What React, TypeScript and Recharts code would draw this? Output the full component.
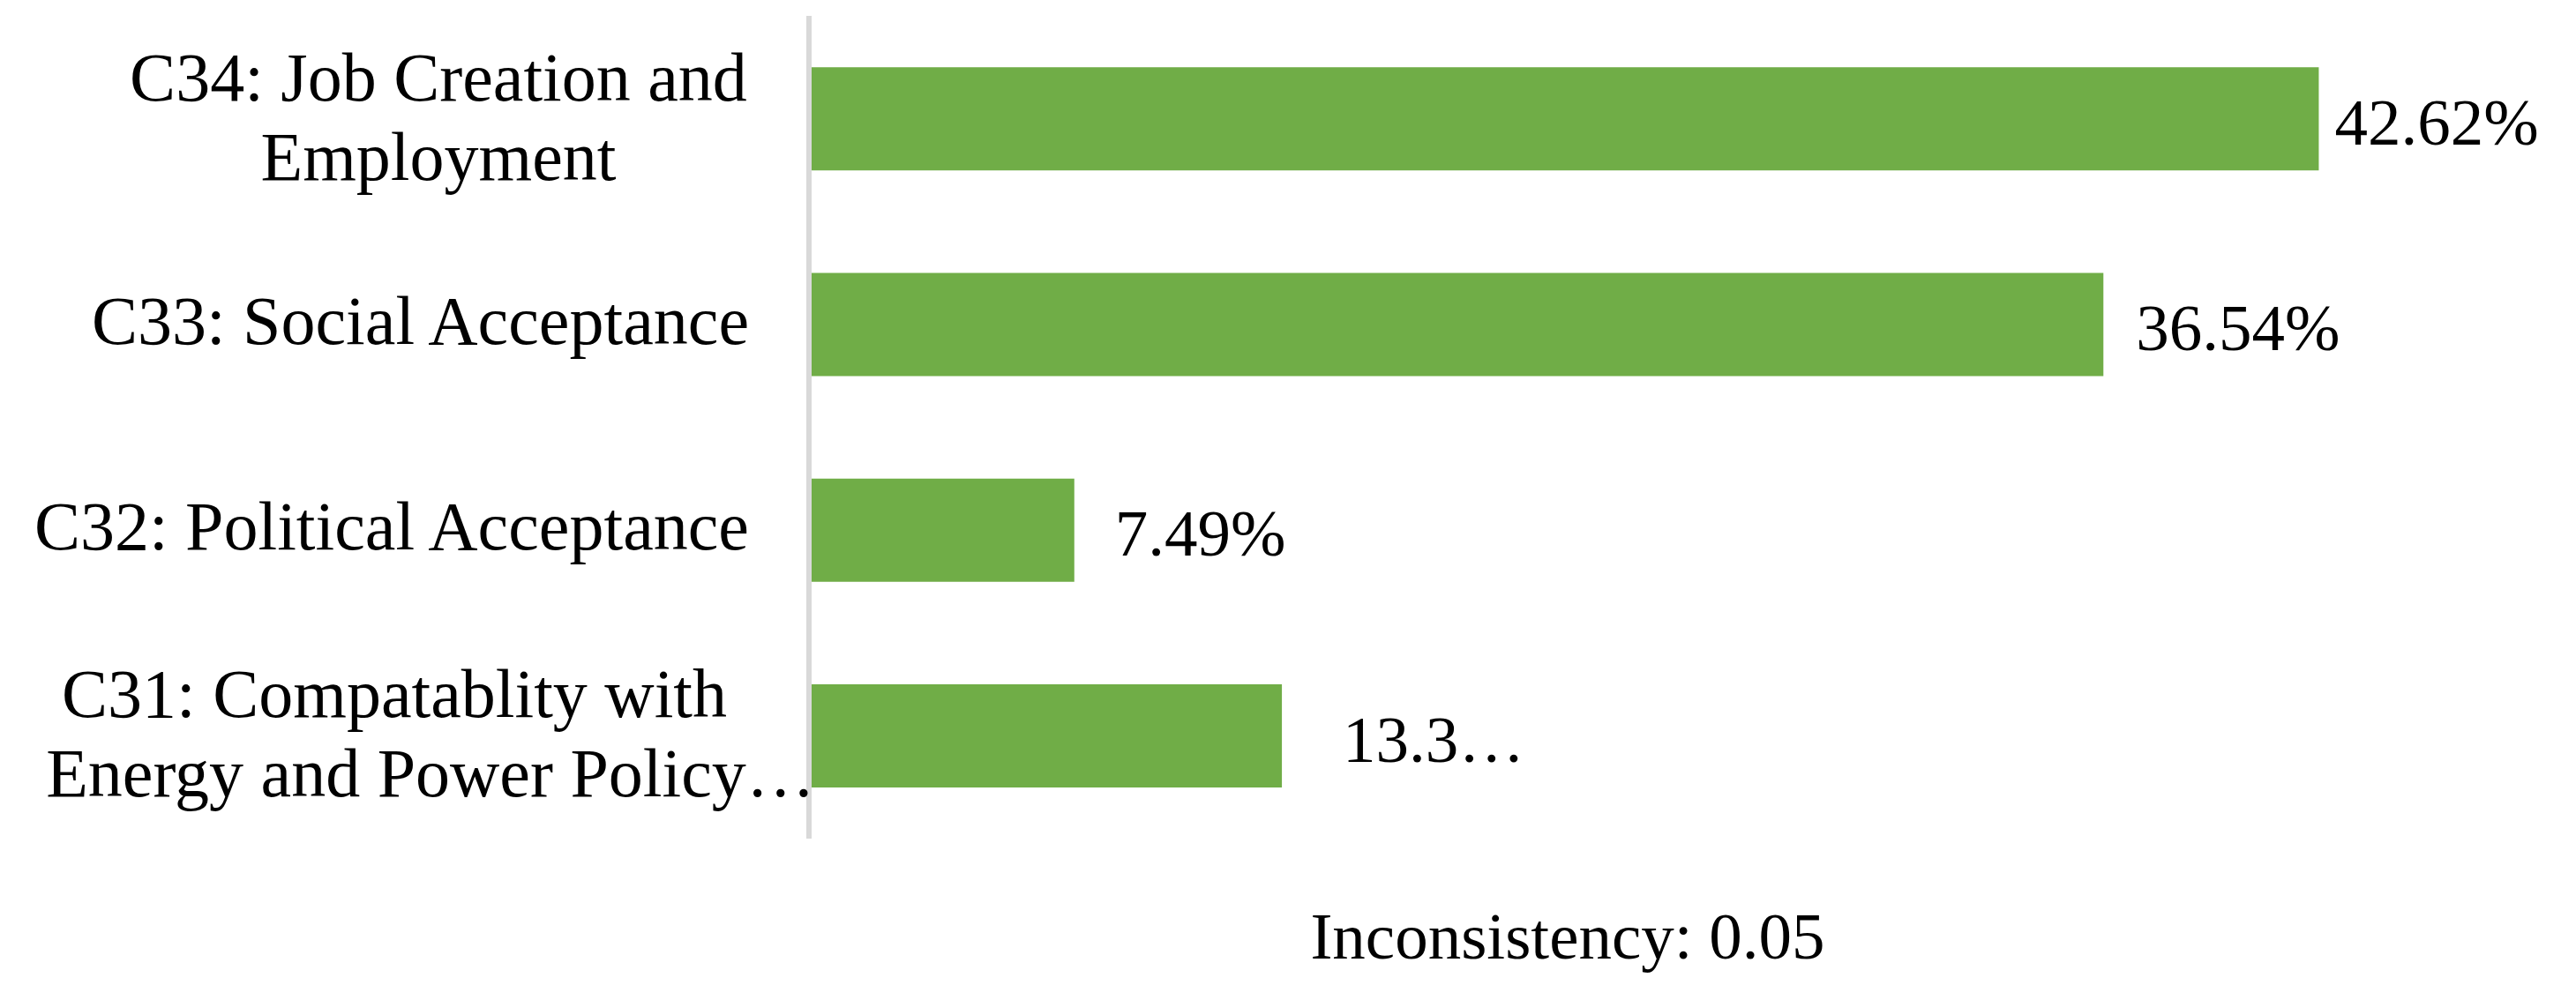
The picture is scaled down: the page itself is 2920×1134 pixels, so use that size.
import React from "react";
import { BarChart, Bar, XAxis, YAxis, LabelList } from "recharts";

// ---- data ----
const CATEGORIES = [
  "C34: Job Creation and Employment",
  "C33: Social Acceptance",
  "C32: Political Acceptance",
  "C31: Compatablity with Energy and Power Policy…",
];
const TICK_LINES = [
  ["C34: Job Creation and", "Employment"],
  ["C33: Social Acceptance"],
  ["C32: Political Acceptance"],
  ["C31: Compatablity with", "Energy and Power Policy…"],
];
const VALUES = [42.62, 36.54, 7.49, 13.35];
const VALUE_LABELS = ["42.62%", "36.54%", "7.49%", "13.3…"];
const NOTE = "Inconsistency: 0.05";
const X_DOMAIN = [0, 45];

// ---- layout / style ----
const W = 2904;
const H = 1118;
const AXIS_W = 909;
const FONT = "'Liberation Serif', 'Times New Roman', serif";
const GREEN = "#70AD47";
const LABEL_GAP = [18, 37, 46, 69];
// distance from axis to the centre of each line of a wrapped tick label
const LINE_CENTER_OFFSET = [[420, 420], [], [], [470, 429]];

const data = CATEGORIES.map((c, i) => ({ name: c, value: VALUES[i], idx: i }));

const CategoryTick = (props: any) => {
  const { y, payload } = props;
  const idx = CATEGORIES.indexOf(payload.value);
  const lines = TICK_LINES[idx] || [String(payload.value)];
  if (lines.length === 1) {
    return (
      <text x={AXIS_W - 68} y={y + 22} textAnchor="end" fontFamily={FONT} fontSize={78} fill="#000">
        {lines[0]}
      </text>
    );
  }
  const lh = 90;
  const first = y - ((lines.length - 1) * lh) / 2 + 24;
  const offs = LINE_CENTER_OFFSET[idx] || [];
  return (
    <text textAnchor="middle" fontFamily={FONT} fontSize={78} fill="#000">
      {lines.map((l, i) => (
        <tspan key={i} x={AXIS_W - (offs[i] ?? 428)} y={first + i * lh}>
          {l}
        </tspan>
      ))}
    </text>
  );
};

const ValueLabel = (props: any) => {
  const { x, y, width, height, index } = props;
  return (
    <text
      x={Number(x) + Number(width) + LABEL_GAP[index]}
      y={Number(y) + Number(height) / 2 + 29}
      textAnchor="start"
      fontFamily={FONT}
      fontSize={75}
      fill="#000"
    >
      {VALUE_LABELS[index]}
    </text>
  );
};

const NoteLabel = (props: any) => {
  const vb = props.viewBox || {};
  return (
    <text x={1769} y={Number(vb.y) + 136} textAnchor="middle" fontFamily={FONT} fontSize={75} fill="#000">
      {NOTE}
    </text>
  );
};

export default function App() {
  return (
    <div style={{ width: W, height: H, background: "#fff" }}>
      <BarChart
        width={W}
        height={H}
        data={data}
        layout="vertical"
        margin={{ top: 10, right: 188, bottom: 0, left: 0 }}
        barCategoryGap="25%"
      >
        <XAxis
          type="number"
          domain={X_DOMAIN}
          allowDataOverflow
          axisLine={false}
          tickLine={false}
          tick={false}
          height={175}
          label={<NoteLabel />}
        />
        <YAxis
          type="category"
          dataKey="name"
          width={AXIS_W}
          axisLine={{ stroke: "#D9D9D9", strokeWidth: 6 }}
          tickLine={false}
          tick={<CategoryTick />}
          interval={0}
        />
        <Bar dataKey="value" fill={GREEN} isAnimationActive={false}>
          <LabelList dataKey="value" content={<ValueLabel />} />
        </Bar>
      </BarChart>
    </div>
  );
}
